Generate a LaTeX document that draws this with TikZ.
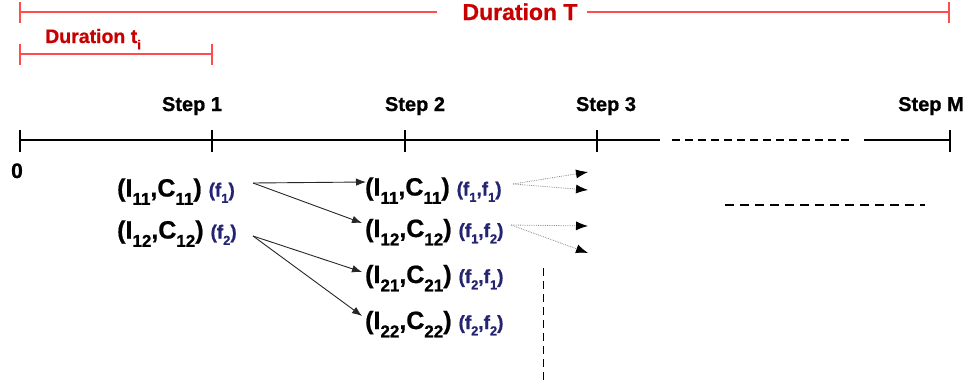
\documentclass[tikz,border=0pt]{standalone}
\usepackage{fontspec}
\setmainfont{Liberation Sans}[BoldFeatures={FakeBold=0.8}]
\usetikzlibrary{arrows.meta}
\definecolor{durred}{HTML}{C80000}
\definecolor{linered}{HTML}{FF4D4D}
\definecolor{fblue}{HTML}{242470}
\definecolor{dotgray}{HTML}{8C8C8C}
\newcommand\sbs[1]{\raisebox{-0.33em}{\scalebox{0.68}{#1}}}
\newcommand\lab[2]{(I\sbs{#1},C\sbs{#1})\ {\color{fblue}\fontsize{19}{19}\selectfont(#2)}}
\begin{document}
\begin{tikzpicture}[x=1pt,y=-1pt,
  redln/.style={linered, line width=1.8pt},
  blkln/.style={black, line width=1.3pt},
  arr/.style={-{Latex[length=10pt,width=7.5pt]}, line width=0.9pt, black!85},
  dotarr/.style={-{Latex[length=12pt,width=9pt,color=black]}, dotgray, densely dotted, line width=0.8pt},
  lbl/.style={inner sep=0pt, anchor=base west, font=\bfseries\fontsize{25}{25}\selectfont},
  steplbl/.style={inner sep=0pt, anchor=base, font=\bfseries\fontsize{20}{20}\selectfont},
  durlbl/.style={inner sep=0pt, text=durred, font=\bfseries\fontsize{23}{23}\selectfont},
  dashln/.style={black, line width=1.2pt, dash pattern=on 8pt off 5pt},
]
\useasboundingbox (0,0) rectangle (968,386);
% Duration T
\node[durlbl, anchor=base] (dT) at (520,20) {Duration T};
\coordinate (tl) at (20,12);
\coordinate (tgl) at (437,12);
\coordinate (tgr) at (587,12);
\coordinate (tr) at (949,12);
\draw[redln] (tl) -- (tgl);
\draw[redln] (tgr) -- (tr);
\draw[redln] (20,2) -- (20,23);
\draw[redln] (949,2) -- (949,23);
% Duration t_i
\node[durlbl, anchor=base west, font=\bfseries\fontsize{19.5}{19.5}\selectfont] (dti) at (45,43) {Duration t\sbs{i}};
\coordinate (il) at (20,54);
\coordinate (ir) at (212,54);
\draw[redln] (il) -- (ir);
\draw[redln] (20,44) -- (20,65);
\draw[redln] (212,44) -- (212,65);
% timeline
\draw[blkln] (20,140) -- (660,140);
\foreach \x in {20,212,405,597} \draw[blkln] (\x,130) -- (\x,152);
\draw[dashln] (672,140) -- (853,140);
\draw[blkln] (864,140) -- (950,140);
\draw[blkln] (950,130) -- (950,152);
\node[steplbl] (s1) at (192,111) {Step 1};
\node[steplbl] (s2) at (415,111) {Step 2};
\node[steplbl] (s3) at (606,111) {Step 3};
\node[steplbl] (sM) at (931,111) {Step M};
\node[inner sep=0pt, anchor=base, font=\bfseries\fontsize{21}{21}\selectfont] (zero) at (17,178) {0};
% labels
\node[lbl] (a1) at (117,196.5) {\lab{11}{f\sbs{1}}};
\node[lbl] (a2) at (117,238.5) {\lab{12}{f\sbs{2}}};
\node[lbl] (b1) at (365,195.5) {\lab{11}{f\sbs{1},f\sbs{1}}};
\node[lbl] (b2) at (365,237) {\lab{12}{f\sbs{1},f\sbs{2}}};
\node[lbl] (b3) at (365,283) {\lab{21}{f\sbs{2},f\sbs{1}}};
\node[lbl] (b4) at (365,329) {\lab{22}{f\sbs{2},f\sbs{2}}};
% connector ends
\coordinate (a1o) at (253,183);
\coordinate (a2o) at (253,236);
\coordinate (b1i) at (366,182);
\coordinate (b2i) at (362,223);
\coordinate (b3i) at (362,272);
\coordinate (b4i) at (362,316);
\draw[arr] (a1o) -- (b1i);
\draw[arr] (a1o) -- (b2i);
\draw[arr] (a2o) -- (b3i);
\draw[arr] (a2o) -- (b4i);
\coordinate (b1o) at (513,184);
\coordinate (b2o) at (511,225);
\coordinate (c1) at (588,172);
\coordinate (c2) at (588,190);
\coordinate (c3) at (588,226);
\coordinate (c4) at (588,253);
\draw[dotarr] (b1o) -- (c1);
\draw[dotarr] (b1o) -- (c2);
\draw[dotarr] (b2o) -- (c3);
\draw[dotarr] (b2o) -- (c4);
% continuation dashes
\draw[dashln, dash pattern=on 9pt off 6pt] (725,205) -- (925,205);
\draw[dashln, line width=1pt] (543,268) -- (543,382);
\end{tikzpicture}
\end{document}
